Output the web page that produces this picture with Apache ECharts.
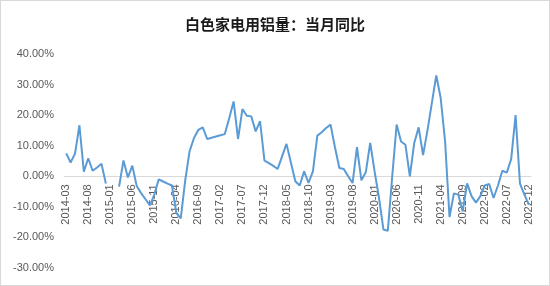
<!DOCTYPE html>
<html>
<head>
<meta charset="utf-8">
<script src="https://cdn.jsdelivr.net/npm/echarts@6/dist/echarts.min.js"></script>
<style>
html,body{margin:0;padding:0;background:#fff;}
#frame{width:550px;height:286px;box-sizing:border-box;border:1px solid #d9d9d9;position:relative;}
#chart{position:absolute;left:0;top:0;width:548px;height:284px;}
</style>
</head>
<body>
<div id="frame"><div id="chart"></div></div>
<script>
const titleText = "白色家电用铝量：当月同比";
const categories = [
"2014-03","2014-04","2014-05","2014-06","2014-07","2014-08","2014-09","2014-10","2014-11","2014-12",
"2015-01","2015-02","2015-03","2015-04","2015-05","2015-06","2015-07","2015-08","2015-09","2015-10","2015-11","2015-12",
"2016-01","2016-02","2016-03","2016-04","2016-05","2016-06","2016-07","2016-08","2016-09","2016-10","2016-11","2016-12",
"2017-01","2017-02","2017-03","2017-04","2017-05","2017-06","2017-07","2017-08","2017-09","2017-10","2017-11","2017-12",
"2018-01","2018-02","2018-03","2018-04","2018-05","2018-06","2018-07","2018-08","2018-09","2018-10","2018-11","2018-12",
"2019-01","2019-02","2019-03","2019-04","2019-05","2019-06","2019-07","2019-08","2019-09","2019-10","2019-11","2019-12",
"2020-01","2020-02","2020-03","2020-04","2020-05","2020-06","2020-07","2020-08","2020-09","2020-10","2020-11","2020-12",
"2021-01","2021-02","2021-03","2021-04","2021-05","2021-06","2021-07","2021-08","2021-09","2021-10","2021-11","2021-12",
"2022-01","2022-02","2022-03","2022-04","2022-05","2022-06","2022-07","2022-08","2022-09","2022-10","2022-11","2022-12"
];
// 当月同比 (%)
const yoy2014 = [7.5, 4.5, 7.4, 16.7, 1.5, 5.9, 1.8, 2.9, 4.1, -2.4];
const yoy2015 = [null, null, -3.4, 5.2, -0.4, 3.5, -3.2, -5.5, -7.5, -9.5, -6.0, -1.0];
const yoy2016 = [-1.7, -2.4, -3.0, -12.0, -13.8, -1.5, 8.2, 12.5, 15.2, 16.0, 12.2, 12.6];
const yoy2017 = [13.0, 13.4, 13.8, 19.0, 24.5, 12.2, 22.0, 19.8, 19.6, 14.7, 18.0, 5.1];
const yoy2018 = [4.3, 3.4, 2.4, 6.5, 10.6, 4.5, -1.6, -3.0, 1.6, -2.2, 1.6, 13.3];
const yoy2019 = [14.4, 15.8, 16.9, 9.5, 2.7, 2.4, 0.0, -2.2, 9.5, -1.3, 1.3, 10.9];
const yoy2020 = [1.6, -7.1, -17.4, -17.8, 0.0, 16.9, 11.4, 10.3, 0.0, 10.9, 16.0, 6.9];
const yoy2021 = [15.0, 24.0, 33.0, 25.6, 11.4, -13.3, -5.6, -6.0, -11.5, -2.3, -6.5, -8.6];
const yoy2022 = [-6.5, -3.0, -2.5, -7.1, -3.0, 1.8, 1.2, 5.6, 20.0, -2.4, -6.0, -9.3];
const yMin = -30, yMax = 40, yStep = 10;

const values = [].concat(yoy2014, yoy2015, yoy2016, yoy2017, yoy2018, yoy2019, yoy2020, yoy2021, yoy2022);

const gridTop = 53, gridBottom = 17, chartH = 284;
const plotH = chartH - gridTop - gridBottom;
// distance from the bottom edge of the grid up to the zero line
const zeroLift = plotH * (0 - yMin) / (yMax - yMin);

const chart = echarts.init(document.getElementById('chart'), null, {renderer: 'canvas'});
chart.setOption({
  animation: false,
  backgroundColor: '#ffffff',
  title: {
    text: titleText,
    left: 'center',
    top: 11,
    textStyle: {fontFamily: 'Noto Sans CJK SC', fontSize: 15, fontWeight: 'bold', color: '#1a1a1a'}
  },
  grid: {left: 63, right: 18, top: gridTop, bottom: gridBottom},
  xAxis: {
    type: 'category',
    data: categories,
    boundaryGap: true,
    offset: -zeroLift,
    axisLine: {onZero: false, lineStyle: {color: '#d9d9d9', width: 1}},
    axisTick: {show: false},
    axisLabel: {
      interval: 4,
      rotate: 90,
      margin: 8,
      fontSize: 11,
      color: '#595959',
      fontFamily: 'Liberation Sans'
    },
    splitLine: {show: false}
  },
  yAxis: {
    type: 'value',
    min: yMin,
    max: yMax,
    interval: yStep,
    axisLine: {show: false},
    axisTick: {show: false},
    splitLine: {show: false},
    axisLabel: {
      margin: 10,
      fontSize: 11,
      color: '#595959',
      fontFamily: 'Liberation Sans',
      formatter: v => v.toFixed(2) + '%'
    }
  },
  series: [{
    type: 'line',
    data: values,
    showSymbol: false,
    connectNulls: false,
    lineStyle: {color: '#5B9BD5', width: 2},
    itemStyle: {color: '#5B9BD5'}
  }]
});
</script>
</body>
</html>
